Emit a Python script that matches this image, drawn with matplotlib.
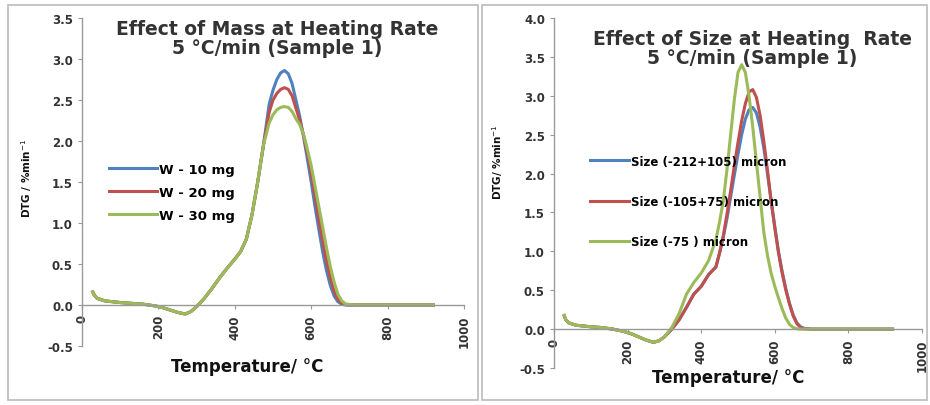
import matplotlib
matplotlib.use("Agg")
import matplotlib.pyplot as plt
from matplotlib.patches import Rectangle

# ---- data: DTG curves, sample 1, heating rate 5 C/min ----
temp_mass = [28, 32, 40, 60, 80, 100, 130, 160, 190, 210, 230, 250, 270, 285, 300,
             320, 340, 360, 380, 400, 415, 430, 445, 460, 475, 490, 500, 510, 520,
             530, 540, 550, 560, 570, 580, 590, 600, 610, 620, 630, 640, 650, 660,
             670, 680, 690, 700, 720, 760, 800, 850, 900, 920]
common_rise = [0.16, 0.12, 0.08, 0.05, 0.04, 0.03, 0.02, 0.01, -0.01, -0.03, -0.06,
               -0.09, -0.11, -0.08, -0.02, 0.08, 0.20, 0.33, 0.45, 0.56, 0.65, 0.80,
               1.10, 1.50, 1.95]
w10 = common_rise + [2.45, 2.62, 2.75, 2.83, 2.86, 2.82, 2.70, 2.50, 2.30, 2.05, 1.78,
                     1.50, 1.20, 0.92, 0.65, 0.42, 0.24, 0.11, 0.04, 0.01, 0.0, 0.0,
                     0.0, 0.0, 0.0, 0.0, 0.0, 0.0]
w20 = common_rise + [2.35, 2.50, 2.58, 2.63, 2.65, 2.63, 2.55, 2.40, 2.25, 2.07, 1.85,
                     1.60, 1.33, 1.05, 0.78, 0.54, 0.33, 0.17, 0.07, 0.02, 0.005, 0.0,
                     0.0, 0.0, 0.0, 0.0, 0.0, 0.0]
w30 = common_rise + [2.22, 2.32, 2.38, 2.41, 2.42, 2.41, 2.36, 2.27, 2.20, 2.08, 1.90,
                     1.70, 1.45, 1.20, 0.95, 0.70, 0.47, 0.28, 0.13, 0.05, 0.015, 0.005,
                     0.0, 0.0, 0.0, 0.0, 0.0, 0.0]
mass_labels = ["W - 10 mg", "W - 20 mg", "W - 30 mg"]

temp_size = [28, 32, 40, 60, 80, 100, 130, 160, 190, 210, 230, 250, 270, 285, 300,
             320, 340, 360, 380, 400, 420, 440, 450, 460, 470, 480, 490, 500, 510,
             520, 530, 540, 550, 560, 570, 580, 590, 600, 610, 620, 630, 640, 650,
             660, 670, 680, 700, 750, 800, 850, 900, 920]
size_212 = [0.17, 0.12, 0.08, 0.05, 0.04, 0.03, 0.02, 0.0, -0.03, -0.06, -0.10, -0.14,
            -0.17, -0.15, -0.10, 0.0, 0.12, 0.28, 0.45, 0.55, 0.70, 0.80, 0.98, 1.18,
            1.42, 1.70, 1.98, 2.25, 2.50, 2.70, 2.82, 2.85, 2.78, 2.60, 2.33, 2.00,
            1.65, 1.32, 1.00, 0.74, 0.52, 0.33, 0.18, 0.08, 0.03, 0.01, 0.0, 0.0,
            0.0, 0.0, 0.0, 0.0]
size_105 = [0.17, 0.12, 0.08, 0.05, 0.04, 0.03, 0.02, 0.0, -0.03, -0.06, -0.10, -0.14,
            -0.17, -0.15, -0.10, 0.0, 0.12, 0.28, 0.45, 0.55, 0.70, 0.80, 0.98, 1.20,
            1.48, 1.78, 2.10, 2.40, 2.68, 2.90, 3.05, 3.08, 2.98, 2.75, 2.42, 2.05,
            1.65, 1.30, 0.98, 0.72, 0.50, 0.32, 0.17, 0.07, 0.02, 0.005, 0.0, 0.0,
            0.0, 0.0, 0.0, 0.0]
size_75 = [0.18, 0.12, 0.08, 0.05, 0.04, 0.03, 0.02, 0.0, -0.03, -0.06, -0.10, -0.14,
           -0.17, -0.15, -0.10, 0.02, 0.20, 0.45, 0.60, 0.72, 0.88, 1.15, 1.38, 1.65,
           2.05, 2.50, 2.95, 3.30, 3.40, 3.30, 3.00, 2.60, 2.15, 1.70, 1.25, 0.95,
           0.72, 0.55, 0.40, 0.26, 0.14, 0.06, 0.02, 0.005, 0.0, 0.0, 0.0, 0.0,
           0.0, 0.0, 0.0, 0.0]
size_labels = ["Size (-212+105) micron", "Size (-105+75) micron", "Size (-75 ) micron"]

colors = ["#4F81BD", "#C0504D", "#9BBB59"]
x_ticks = [0, 200, 400, 600, 800, 1000]

fig = plt.figure(figsize=(9.3, 4.06), dpi=100)

# panel frames
for x0, w in [(0.009, 0.505), (0.518, 0.479)]:
    fig.patches.append(Rectangle((x0, 0.012), w, 0.972, transform=fig.transFigure,
                                 fill=False, edgecolor="#BBBBBB", lw=1.2))


def style_axis(ax, ymin, ymax, yticks):
    ax.set_xlim(0, 1000)
    ax.set_ylim(ymin, ymax)
    ax.spines["top"].set_visible(False)
    ax.spines["right"].set_visible(False)
    ax.spines["bottom"].set_position(("data", 0))
    for s in ("left", "bottom"):
        ax.spines[s].set_color("#999999")
        ax.spines[s].set_linewidth(1.0)
    ax.set_xticks(x_ticks)
    ax.set_xticklabels([str(t) for t in x_ticks], rotation=90, va="top")
    ax.set_yticks(yticks)
    ax.set_yticklabels(["%.1f" % v for v in yticks])
    ax.tick_params(axis="both", colors="#999999", labelcolor="#333333",
                   labelsize=8.5, length=3, direction="out")
    for lab in ax.get_xticklabels() + ax.get_yticklabels():
        lab.set_fontweight("bold")
    ax.patch.set_alpha(0)


# left: effect of mass
ax1 = fig.add_axes([0.0882, 0.1453, 0.4107, 0.8079])
for y, c, lab in zip([w10, w20, w30], colors, mass_labels):
    ax1.plot(temp_mass, y, color=c, lw=2.2, label=lab)
style_axis(ax1, -0.5, 3.5, [-0.5, 0, 0.5, 1.0, 1.5, 2.0, 2.5, 3.0, 3.5])
ax1.legend(loc="upper left", bbox_to_anchor=(0.04, 0.595), frameon=False,
           handlelength=3.6, handletextpad=0.2, labelspacing=0.75,
           prop={"weight": "bold", "size": 9.5})

# right: effect of size
ax2 = fig.add_axes([0.5957, 0.0911, 0.3957, 0.8621])
for y, c, lab in zip([size_212, size_105, size_75], colors, size_labels):
    ax2.plot(temp_size, y, color=c, lw=2.2, label=lab)
style_axis(ax2, -0.5, 4.0, [-0.5, 0, 0.5, 1.0, 1.5, 2.0, 2.5, 3.0, 3.5, 4.0])
ax2.legend(loc="upper left", bbox_to_anchor=(0.07, 0.64), frameon=False,
           handlelength=3.3, handletextpad=0.1, labelspacing=2.3,
           prop={"weight": "bold", "size": 8.5})

# titles and axis labels
title_kw = dict(ha="center", va="center", fontsize=13.5, fontweight="bold",
                color="#333333", linespacing=1.0)
fig.text(277 / 930, 1 - 39 / 406, "Effect of Mass at Heating Rate\n5 \u00b0C/min (Sample 1)",
         **title_kw)
fig.text(752 / 930, 1 - 49 / 406, "Effect of Size at Heating  Rate\n5 \u00b0C/min (Sample 1)",
         **title_kw)

xl_kw = dict(ha="center", va="center", fontsize=12, fontweight="bold", color="#111111")
fig.text(247 / 930, 1 - 367 / 406, "Temperature/ \u00b0C", **xl_kw)
fig.text(728 / 930, 1 - 378 / 406, "Temperature/ \u00b0C", **xl_kw)

yl_kw = dict(ha="center", va="center", rotation=90, fontsize=7.5, fontweight="bold",
             color="#111111")
fig.text(27 / 930, 1 - 178 / 406, "DTG / %min$^{-1}$", **yl_kw)
fig.text(498 / 930, 1 - 162 / 406, "DTG/ %min$^{-1}$", **yl_kw)

fig.savefig("out.png", dpi=100)
